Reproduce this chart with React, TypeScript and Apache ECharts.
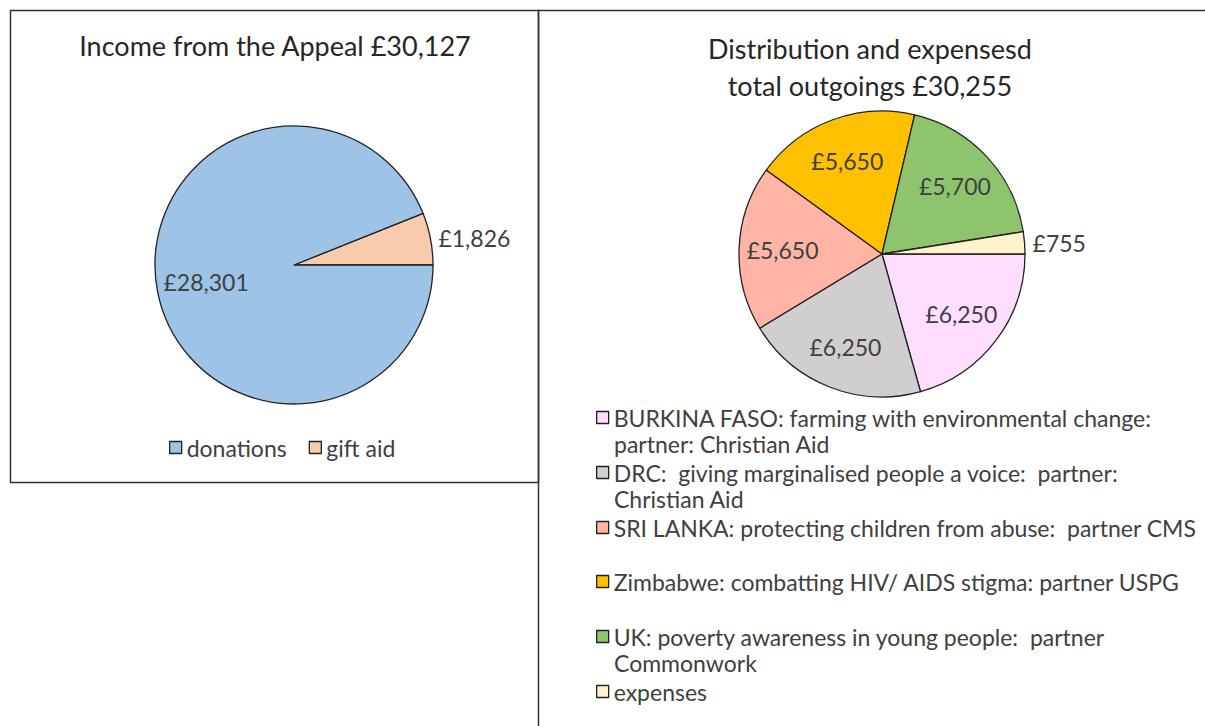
import React, { useEffect, useRef } from "react";
import * as echarts from "echarts";

const incomeTitle = "Income from the Appeal £30,127";
const incomeNames = ["donations", "gift aid"];
const incomeValues = [28301, 1826];
const incomeColors = ["#9DC3E6", "#F8CBAD"];

const outTitle = ["Distribution and expensesd", "total outgoings £30,255"];
const outNames = ["BURKINA FASO", "DRC", "SRI LANKA", "Zimbabwe", "UK", "expenses"];
const outValues = [6250, 6250, 5650, 5650, 5700, 755];
const outColors = ["#FFDDFF", "#D0CECE", "#FFB4A6", "#FFC000", "#8FC46F", "#FFF2CC"];
const outLegendLines = [
  ["BURKINA FASO: farming with environmental change:", "partner: Christian Aid"],
  ["DRC:  giving marginalised people a voice:  partner:", "Christian Aid"],
  ["SRI LANKA: protecting children from abuse:  partner CMS", ""],
  ["Zimbabwe: combatting HIV/ AIDS stigma: partner USPG", ""],
  ["UK: poverty awareness in young people:  partner", "Commonwork"],
  ["expenses", ""],
];
const outLegendY = [414, 469, 524, 578, 633, 688];
const lineGap = 30;

const FONT = "Lato, Carlito, 'Noto Sans', sans-serif";
const TXT = "#404040";

const fmt = (v: number) => "£" + v.toLocaleString("en-GB");

export default function App() {
  const ref = useRef<HTMLDivElement>(null);
  useEffect(() => {
    if (!ref.current) return;
    const chart = echarts.init(ref.current, undefined, { renderer: "svg" });

    const legendStyle = {
      icon: "rect",
      itemWidth: 12,
      itemHeight: 12,
      itemGap: 22,
      itemStyle: { borderColor: "#222", borderWidth: 1.3 },
      textStyle: { fontFamily: FONT, fontSize: 23, color: TXT, lineHeight: 22, padding: [0, 0, 0, 0] },
      selectedMode: false,
    };

    const legends: any[] = [
      { ...legendStyle, data: incomeNames, left: 164, top: 431, orient: "horizontal" },
    ];
    outNames.forEach((n, i) => {
      legends.push({
        ...legendStyle,
        data: [n],
        left: 591,
        top: outLegendY[i] - 13,
        formatter: () => outLegendLines[i][0],
      });
    });

    const graphics: any[] = [
      {
        type: "rect",
        shape: { x: 10.5, y: 10.5, width: 528, height: 472 },
        style: { fill: "none", stroke: "#333", lineWidth: 1.5 },
      },
      {
        type: "polyline",
        shape: { points: [[538.5, 726], [538.5, 10.5], [1205, 10.5]] },
        style: { fill: "none", stroke: "#333", lineWidth: 1.5 },
      },
      {
        type: "text",
        x: 275,
        y: 45,
        style: { text: incomeTitle, font: `27px ${FONT}`, fill: "#262626", textAlign: "center", textVerticalAlign: "middle" },
      },
      {
        type: "text",
        x: 870,
        y: 48,
        style: { text: outTitle[0], font: `27px ${FONT}`, fill: "#262626", textAlign: "center", textVerticalAlign: "middle" },
      },
      {
        type: "text",
        x: 870,
        y: 85,
        style: { text: outTitle[1], font: `27px ${FONT}`, fill: "#262626", textAlign: "center", textVerticalAlign: "middle" },
      },
    ];
    outLegendLines.forEach((l, i) => {
      if (l[1]) {
        graphics.push({
          type: "text",
          x: 614,
          y: outLegendY[i] + lineGap,
          style: { text: l[1], font: `23px ${FONT}`, lineHeight: 22, fill: TXT, textAlign: "left", textVerticalAlign: "middle" },
        });
      }
    });

    const labelBase = {
      show: true,
      position: "inside",
      fontFamily: FONT,
      fontSize: 23,
      color: TXT,
      formatter: (p: any) => fmt(p.value),
    };

    // income: gift aid first so it sits just above 3 o'clock (counter-clockwise)
    const incomeOrder = [1, 0];
    const incomeData = incomeOrder.map((i) => ({
      name: incomeNames[i],
      value: incomeValues[i],
      itemStyle: { color: incomeColors[i] },
    }));
    const outData = outNames.map((n, i) => ({
      name: n,
      value: outValues[i],
      itemStyle: { color: outColors[i] },
    }));

    const slices = {
      type: "pie",
      label: { show: false },
      labelLine: { show: false },
      itemStyle: { borderColor: "#222", borderWidth: 1.3 },
      emphasis: { disabled: true },
    };
    const labelsOnly = {
      type: "pie",
      silent: true,
      labelLine: { show: false, length: 3, length2: 0 },
      itemStyle: { color: "rgba(0,0,0,0)", borderWidth: 0 },
      emphasis: { disabled: true },
      label: labelBase,
    };

    chart.setOption({
      animation: false,
      backgroundColor: "#fff",
      legend: legends,
      graphic: graphics,
      series: [
        { ...slices, center: [294, 265], radius: [0, 139], startAngle: 0, clockwise: false, data: incomeData },
        { ...slices, center: [882, 254], radius: [0, 143], startAngle: 0, clockwise: true, data: outData },
        {
          ...labelsOnly,
          center: [294, 265],
          radius: [34, 139],
          startAngle: 0,
          clockwise: false,
          data: incomeData.map((d) => ({
            name: d.name,
            value: d.value,
            ...(d.name === "gift aid" ? { label: { position: "outside", alignTo: "none" } } : {}),
          })),
        },
        {
          ...labelsOnly,
          center: [882, 254],
          radius: [50, 143],
          startAngle: 0,
          clockwise: true,
          data: outData.map((d) => ({
            name: d.name,
            value: d.value,
            ...(d.name === "expenses" ? { label: { position: "outside", alignTo: "none" } } : {}),
          })),
        },
      ],
    });
    return () => chart.dispose();
  }, []);
  return (
    <div
      ref={ref}
      style={{ position: "absolute", left: 0, top: 0, width: 1205, height: 726 }}
    />
  );
}
